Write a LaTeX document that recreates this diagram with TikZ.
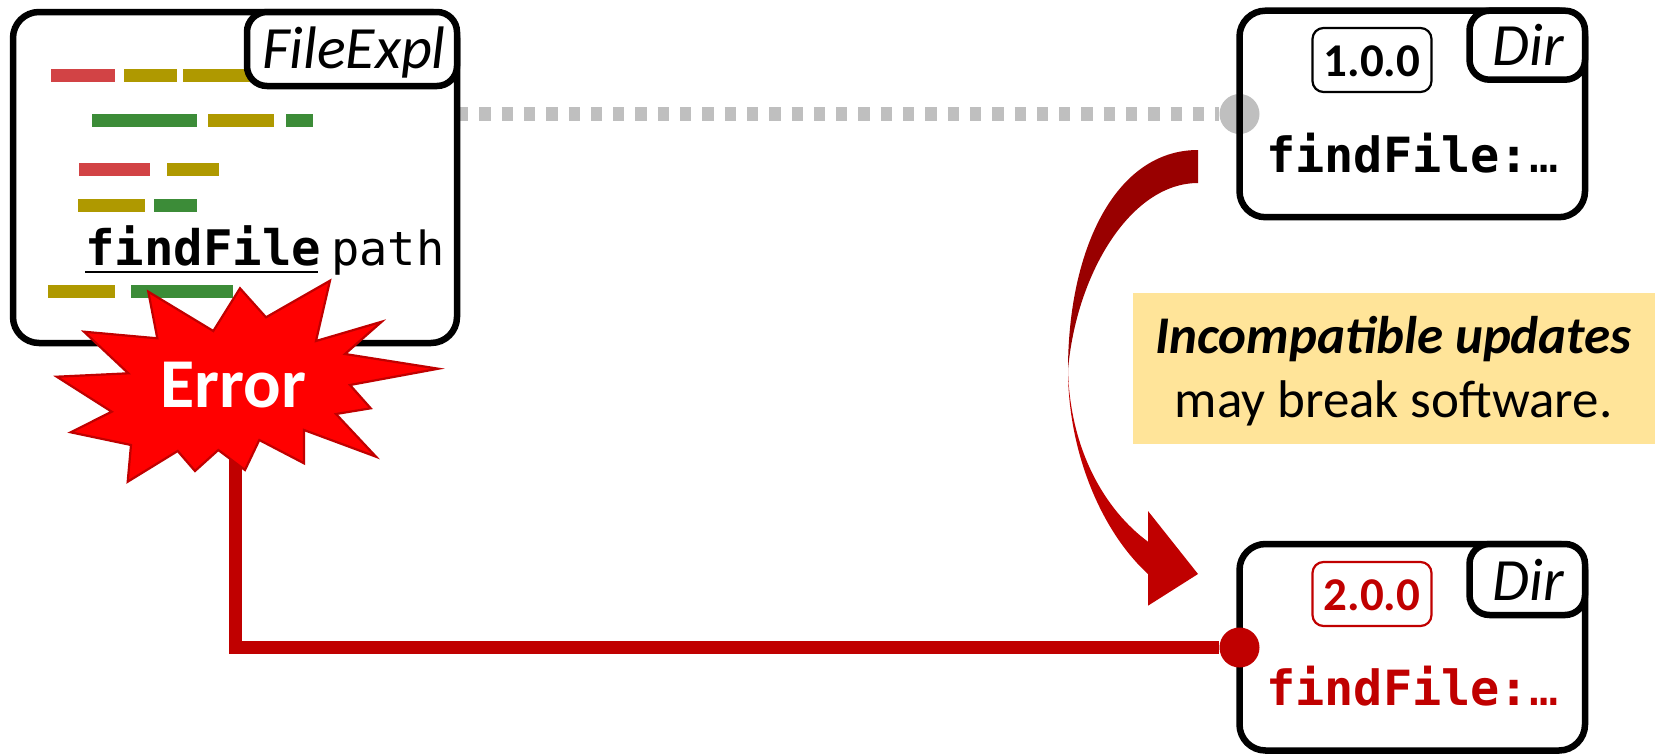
\documentclass[tikz,border=0pt]{standalone}
\usepackage{xcolor}
\usepackage{fontspec}
\setmainfont{Carlito}
\setmonofont{DejaVu Sans Mono}
\usetikzlibrary{arrows.meta, positioning, calc}
\definecolor{darkred}{HTML}{C00000}
\definecolor{deepred}{HTML}{990000}
\definecolor{burstred}{HTML}{FF0000}
\definecolor{linkgray}{HTML}{BFBFBF}
\definecolor{notegold}{HTML}{FFE499}
\definecolor{codered}{HTML}{D24345}
\definecolor{codegold}{HTML}{AF9900}
\definecolor{codegreen}{HTML}{3C8C38}
\tikzset{
  module/.style={
    rectangle, rounded corners=26pt, draw=black, line width=6.5pt,
    inner sep=0pt, outer sep=0pt, anchor=north west,
  },
  tagbox/.style={
    rectangle, rounded corners=20pt, draw=black, line width=6.5pt, fill=white,
    inner sep=0pt, outer sep=0pt, anchor=north east,
  },
  tagname/.style={inner sep=0pt, anchor=base, font=\fontsize{60}{62}\selectfont\itshape},
  version/.style={
    rectangle, rounded corners=11pt, line width=2.2pt,
    minimum width=119pt, minimum height=64pt, inner sep=0pt,
  },
  vernum/.style={inner sep=0pt, anchor=base, font=\fontsize{47}{50}\selectfont\bfseries},
  codetext/.style={inner sep=0pt, anchor=base west},
  exports/.style={codetext, font=\fontsize{48.5}{50}\selectfont\ttfamily\bfseries},
  pin/.style={circle, minimum size=40pt, inner sep=0pt},
  oldlink/.style={linkgray, line width=14pt, dash pattern=on 11.3pt off 11pt},
  newlink/.style={darkred, line width=13pt},
  notetext/.style={inner sep=0pt, anchor=base, font=\fontsize{53}{55}\selectfont},
}
\begin{document}
\begin{tikzpicture}[x=1pt, y=-1pt]
  \useasboundingbox (0,0) rectangle (1655,753);

  % Note
  \fill[notegold] (1133,293) rectangle (1655,443.5);
  \node[notetext] (notehead) at (1393.5,353) {\textbf{\textit{Incompatible updates}}};
  \node[notetext] (notebody) at (1393.5,417) {may break software.};

  % Pins and links
  \coordinate (burstfoot) at (235,450);
  \node[pin, fill=linkgray] (oldpin) at (1239.5,114) {};
  \coordinate (filelink) at (457,114);
  \draw[oldlink] (filelink) -- (oldpin);

  % File explorer
  \node[module, minimum width=444pt, minimum height=331pt] (filebox) at (13,12) {};
  \foreach \xa/\xb/\ya/\col in {
    51/115/68.5/codered, 124/177/68.5/codegold, 183/253/68.5/codegold,
    92/197/114/codegreen, 208/274/114/codegold, 286/313/114/codegreen,
    79/150/162.5/codered, 167/219/162.5/codegold,
    78/145/199/codegold, 154/197/199/codegreen,
    48/115/285/codegold, 131/233/285/codegreen}
    \fill[\col] (\xa,\ya) rectangle (\xb,\ya+13);
  \node[tagbox, minimum width=210pt, minimum height=74pt] (filetag) at (filebox.north east) {};
  \node[tagname] (filename) at (354,68) {FileExpl};
  \node[codetext, font=\fontsize{49}{50}\selectfont\ttfamily\bfseries] (findcall) at (85,265) {findFile};
  \node[codetext, font=\fontsize{47}{50}\selectfont\ttfamily] (findarg) at (331,265) {path};
  \draw[line width=2.6pt] (85,272) -- (318,272);

  % Old directory
  \node[module, minimum width=345.5pt, minimum height=206.5pt] (oldbox) at (1239.5,10.7) {};
  \node[tagbox, minimum width=115.5pt, minimum height=69pt] (oldtag) at (oldbox.north east) {};
  \node[tagname] (oldname) at (1528,65) {Dir};
  \node[version, draw=black] (oldver) at (1372,60) {};
  \node[vernum] (oldnum) at (1372,76) {1.0.0};
  \node[exports] (oldfind) at (1266,172) {findFile:{\mdseries …}};

  % New directory
  \node[module, minimum width=345.5pt, minimum height=206.5pt] (newbox) at (1239.5,544) {};
  \node[tagbox, minimum width=115.5pt, minimum height=71pt] (newtag) at (newbox.north east) {};
  \node[tagname] (newname) at (1528,600) {Dir};
  \node[version, draw=darkred] (newver) at (1372,594) {};
  \node[vernum, text=darkred] (newnum) at (1372,610) {2.0.0};
  \node[exports, text=darkred] (newfind) at (1266,705.5) {findFile:{\mdseries …}};

  % Breaking link, drawn over the box border
  \node[pin, fill=darkred] (newpin) at (1239.5,647.5) {};
  \draw[newlink] (burstfoot) |- (newpin);

  % Burst
  \draw[fill=burstred, draw=darkred, line width=2.2pt, line join=miter]
    (148.3,291.7) -- (213.3,331) -- (240,288.3) -- (266,317.3) -- (330,280.7)
    -- (316,341) -- (381.7,321.7) -- (345,354) -- (438.3,368.7) -- (350,385)
    -- (370.7,408.3) -- (336,414) -- (376,456.7) -- (304,430) -- (304,463.3)
    -- (259.3,440) -- (245,470) -- (218.3,450) -- (195,471) -- (177.7,451)
    -- (127.7,481.7) -- (131,445) -- (70.7,432.3) -- (111.7,411.7) -- (56.7,376.7)
    -- (128.3,373.3) -- (84,331.7) -- (157.3,338.3) -- cycle;
  \node[inner sep=0pt, text=white, font=\fontsize{70}{72}\selectfont\bfseries] (error) at (233.5,385) {Error};

  % Curved arrow
  \fill[deepred] (1198,150) .. controls (1115,150) and (1068,250) .. (1068,370)
    .. controls (1076,275) and (1130,183) .. (1198,183) -- cycle;
  \fill[darkred] (1068,370) .. controls (1068,450) and (1100,530) .. (1148,574)
    -- (1148,605.7) -- (1198,574) -- (1148,511) -- (1148,541.7)
    .. controls (1105,510) and (1070,450) .. (1068,370) -- cycle;

\end{tikzpicture}
\end{document}
